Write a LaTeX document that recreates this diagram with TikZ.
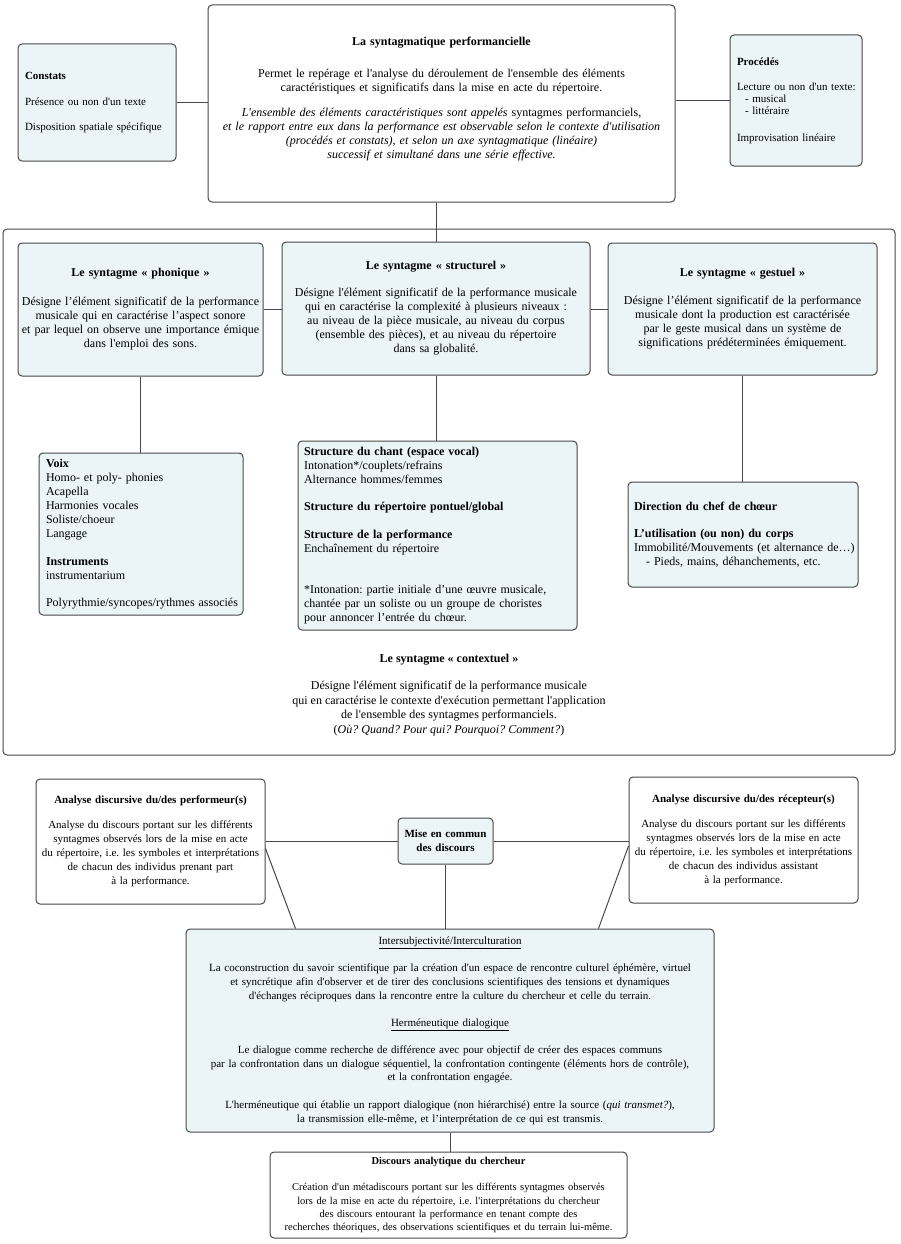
\documentclass[tikz,border=0pt]{standalone}
\usepackage{fontspec}
\newfontfamily\lib{Liberation Serif}
\usetikzlibrary{calc}
\definecolor{boxfill}{RGB}{235,244,247}
\definecolor{edge}{RGB}{72,72,72}
\frenchspacing
\begin{document}
\begin{tikzpicture}[x=1pt,y=-1pt,
  every node/.style={font=\lib\fontsize{12}{14}\selectfont},
  box/.style={draw=edge, line width=1pt, rounded corners=4pt, inner xsep=2pt, inner ysep=0pt, align=center},
  bbox/.style={box, fill=boxfill},
  wbox/.style={box, fill=white},
  lbox/.style={bbox, align=left, inner xsep=0pt},
  small/.style={font=\lib\fontsize{11}{14}\selectfont},
  link/.style={draw=edge, line width=1pt}]
\useasboundingbox[fill=white] (0,0) rectangle (900,1244);

% container of the syntagmes
\node[wbox, minimum width=892pt, minimum height=526pt] (frame) at (449,492) {};

% top row
\node[wbox, minimum width=467pt, minimum height=197pt, text width=467pt, inner xsep=0pt] (main) at (441.5,103.5) {%
\textbf{La syntagmatique performancielle}\\[18pt]
Permet le repérage et l'analyse du déroulement de l'ensemble des éléments\\
caractéristiques et significatifs dans la mise en acte du répertoire.\\[11pt]
\textit{L'ensemble des éléments caractéristiques sont appelés} syntagmes performanciels,\\
\textit{et le rapport entre eux dans la performance est observable selon le contexte d'utilisation}\\
\textit{(procédés et constats), et selon un axe syntagmatique (linéaire)}\\
\textit{successif et simultané dans une série effective.}\\[-2pt]\mbox{}};

\node[lbox, small, minimum width=158pt, minimum height=117pt, text width=158pt] (constats) at (97,102.5) {%
\leftskip=7pt\relax
\textbf{Constats}\\[12pt]
Présence ou non d'un texte\\[11pt]
Disposition spatiale spécifique\par};

\node[lbox, small, minimum width=132pt, minimum height=131pt, text width=132pt] (procedes) at (796,100.5) {%
\leftskip=7pt\relax
\textbf{Procédés}\\[11pt]
Lecture ou non d'un texte:\\[-2pt]
\hspace*{8pt}- musical\\[-2pt]
\hspace*{8pt}- littéraire\\[13pt]
Improvisation linéaire\par};

% syntagmes
\node[bbox, minimum width=245pt, minimum height=133pt, text width=241pt] (phonique) at (140.5,309.5) {%
\textbf{Le syntagme « phonique »}\\[15pt]
Désigne l’élément significatif de la performance\\
musicale qui en caractérise l’aspect sonore\\
et par lequel on observe une importance émique\\
dans l'emploi des sons.};

\node[bbox, minimum width=308pt, minimum height=133pt, text width=304pt] (structurel) at (436,308.5) {%
\textbf{Le syntagme « structurel »}\\[13pt]
Désigne l'élément significatif de la performance musicale\\
qui en caractérise la complexité à plusieurs niveaux :\\
au niveau de la pièce musicale, au niveau du corpus\\
(ensemble des pièces), et au niveau du répertoire\\
dans sa globalité.};

\node[bbox, minimum width=269pt, minimum height=132pt, text width=265pt] (gestuel) at (742.5,309) {%
\textbf{Le syntagme « gestuel »}\\[14pt]
Désigne l’élément significatif de la performance\\
musicale dont la production est caractérisée\\
par le geste musical dans un système de\\
significations prédéterminées émiquement.};

\node[lbox, minimum width=204pt, minimum height=162pt, text width=204pt] (voix) at (141,534) {%
\leftskip=7pt\relax
\textbf{Voix}\\
Homo- et poly- phonies\\
Acapella\\
Harmonies vocales\\
Soliste/choeur\\
Langage\\[14pt]
\textbf{Instruments}\\
instrumentarium\\[13pt]
Polyrythmie/syncopes/rythmes associés\par};

\node[lbox, minimum width=279pt, minimum height=189pt, text width=279pt] (chant) at (437.5,535.5) {%
\leftskip=6pt\relax
\textbf{Structure du chant (espace vocal)}\\
Intonation*/couplets/refrains\\
Alternance hommes/femmes\\[13pt]
\textbf{Structure du répertoire pontuel/global}\\[14pt]
\textbf{Structure de la performance}\\
Enchaînement du répertoire\\[27pt]
*Intonation: partie initiale d’une œuvre musicale,\\
chantée par un soliste ou un groupe de choristes\\
pour annoncer l’entrée du chœur.\par};

\node[lbox, minimum width=230pt, minimum height=105pt, text width=230pt] (direction) at (743,534.5) {%
\leftskip=6pt\relax
\textbf{Direction du chef de chœur}\\[13pt]
\textbf{L’utilisation (ou non) du corps}\\
Immobilité/Mouvements (et alternance de…)\\
\hspace*{12pt}- Pieds, mains, déhanchements, etc.\par};

\node[font=\lib\fontsize{12}{14.5}\selectfont, align=center] (ctx) at (449,695) {%
\textbf{Le syntagme « contextuel »}\\[12.5pt]
Désigne l'élément significatif de la performance musicale\\
qui en caractérise le contexte d'exécution permettant l'application\\
de l'ensemble des syntagmes performanciels.\\
(\textit{Où? Quand? Pour qui? Pourquoi? Comment?})};

% discours
\node[wbox, small, minimum width=229pt, minimum height=125pt, text width=225pt] (perf) at (150.5,841.5) {%
\textbf{Analyse discursive du/des performeur(s)}\\[11pt]
Analyse du discours portant sur les différents\\
syntagmes observés lors de la mise en acte\\
du répertoire, i.e. les symboles et interprétations\\
de chacun des individus prenant part\\
à la performance.};

\node[wbox, small, minimum width=229pt, minimum height=126pt, text width=225pt] (recep) at (743.5,840) {%
\textbf{Analyse discursive du/des récepteur(s)}\\[11pt]
Analyse du discours portant sur les différents\\
syntagmes observés lors de la mise en acte\\
du répertoire, i.e. les symboles et interprétations\\
de chacun des individus assistant\\
à la performance.};

\node[bbox, small, minimum width=95pt, minimum height=46pt, text width=91pt] (mise) at (445.5,841) {%
\textbf{Mise en commun}\\
\textbf{des discours}};

\node[bbox, font=\lib\fontsize{11}{13.7}\selectfont, minimum width=528pt, minimum height=203pt, text width=524pt] (inter) at (450,1030.5) {%
\underline{Intersubjectivité/Interculturation}\\[14pt]
La coconstruction du savoir scientifique par la création d'un espace de rencontre culturel éphémère, virtuel\\
et syncrétique afin d'observer et de tirer des conclusions scientifiques des tensions et dynamiques\\
d'échanges réciproques dans la rencontre entre la culture du chercheur et celle du terrain.\\[14pt]
\underline{Herméneutique dialogique}\\[13pt]
Le dialogue comme recherche de différence avec pour objectif de créer des espaces communs\\
par la confrontation dans un dialogue séquentiel, la confrontation contingente (éléments hors de contrôle),\\
et la confrontation engagée.\\[14pt]
L'herméneutique qui établie un rapport dialogique (non hiérarchisé) entre la source (\textit{qui transmet?}),\\
la transmission elle-même, et l’interprétation de ce qui est transmis.};

\node[wbox, font=\lib\fontsize{10.5}{13.2}\selectfont, minimum width=357pt, minimum height=86pt, text width=353pt] (cherch) at (448.5,1195) {%
\textbf{Discours analytique du chercheur}\\[13pt]
Création d'un métadiscours portant sur les différents syntagmes observés\\
lors de la mise en acte du répertoire, i.e. l'interprétations du chercheur\\
des discours entourant la performance en tenant compte des\\
recherches théoriques, des observations scientifiques et du terrain lui-même.};

% connectors
\draw[link] (constats.east) -- (constats.east -| main.west);
\draw[link] (procedes.west) -- (procedes.west -| main.east);
\draw[link] (structurel.north) -- (structurel.north |- main.south);
\draw[link] (phonique.east) -- (phonique.east -| structurel.west);
\draw[link] (gestuel.west) -- (gestuel.west -| structurel.east);
\draw[link] (phonique.south) -- (phonique.south |- voix.north);
\draw[link] (structurel.south) -- (structurel.south |- chant.north);
\draw[link] (gestuel.south) -- (gestuel.south |- direction.north);
\draw[link] (mise.west) -- (mise.west -| perf.east);
\draw[link] (mise.east) -- (mise.east -| recep.west);
\draw[link] ([yshift=-7pt]perf.east) -- ([xshift=110pt]inter.north west);
\draw[link] ([yshift=-6pt]recep.west) -- ([xshift=-116pt]inter.north east);
\draw[link] (mise.south) -- (mise.south |- inter.north);
\draw[link] (inter.south) -- (inter.south |- cherch.north);
\end{tikzpicture}
\end{document}
